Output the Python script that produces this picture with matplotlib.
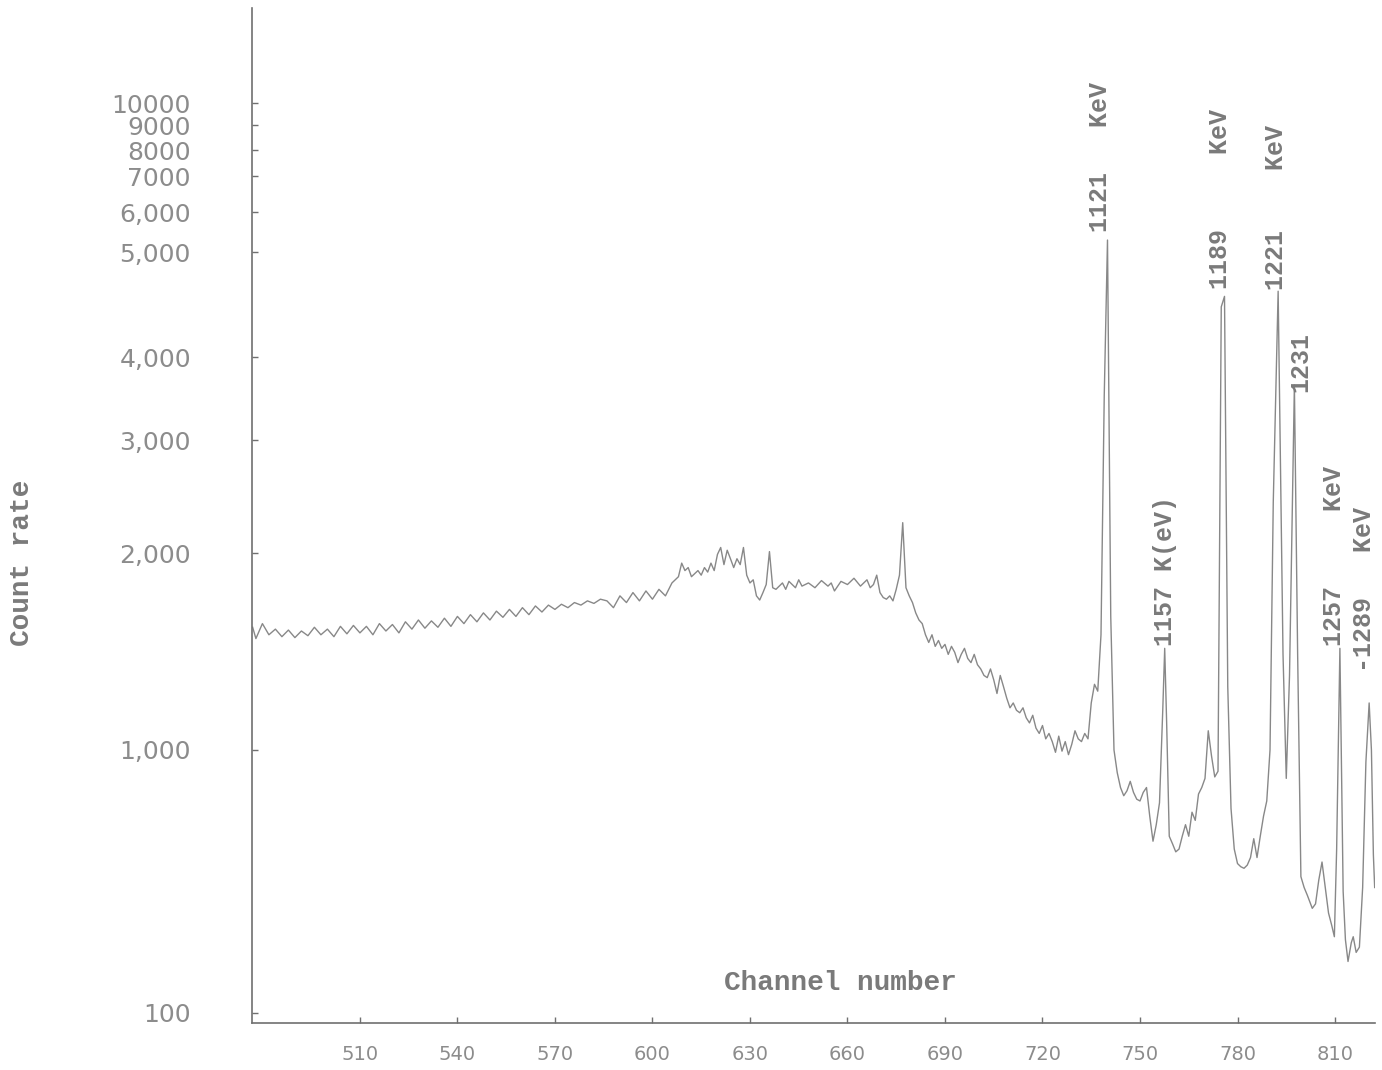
import numpy as np
import matplotlib
matplotlib.use("Agg")
import matplotlib.pyplot as plt
from matplotlib.ticker import FixedLocator, FixedFormatter, NullLocator

# ---------------- data ----------------
channels = [
    477, 478, 480, 482, 484, 486, 488, 490, 492, 494, 496, 498, 500, 502, 504, 506, 508, 510,
    512, 514, 516, 518, 520, 522, 524, 526, 528, 530, 532, 534, 536, 538, 540, 542, 544, 546,
    548, 550, 552, 554, 556, 558, 560, 562, 564, 566, 568, 570, 572, 574, 576, 578, 580, 582,
    584, 586, 588, 590, 592, 594, 596, 598, 600, 602, 604, 606, 608, 609, 610, 611, 612, 613,
    614, 615, 616, 617, 618, 619, 620, 621, 622, 623, 624, 625, 626, 627, 628, 629, 630, 631,
    632, 633, 634, 635, 636, 637, 638, 640, 641, 642, 644, 645, 646, 648, 650, 652, 654, 655,
    656, 658, 660, 662, 664, 666, 667, 668, 669, 670, 671, 672, 673, 674, 675, 676, 677, 678,
    679, 680, 681, 682, 683, 684, 685, 686, 687, 688, 689, 690, 691, 692, 693, 694, 695, 696,
    697, 698, 699, 700, 701, 702, 703, 704, 705, 706, 707, 708, 709, 710, 711, 712, 713, 714,
    715, 716, 717, 718, 719, 720, 721, 722, 723, 724, 725, 726, 727, 728, 729, 730, 731, 732,
    733, 734, 735, 736, 737, 738, 739, 740, 741, 742, 743, 744, 745, 746, 747, 748, 749, 750,
    751, 752, 753, 754, 755, 756, 757, 757.6, 758.2, 759, 760, 761, 762, 763, 764, 765, 766,
    767, 768, 769, 770, 771, 772, 773, 774, 775, 776, 777, 778, 779, 780, 781, 782, 783, 784,
    785, 786, 787, 788, 789, 790, 791, 792.5, 794, 795, 796, 797.5, 798.5, 799.5, 800.5, 801.5,
    803, 804, 805, 806, 807, 808, 809, 809.8, 810.5, 811.5, 812.5, 813.2, 814, 815, 815.6,
    816.5, 817.5, 818.5, 819.5, 820.5, 821.2, 821.8, 822.2,
]
counts = [
    1540, 1480, 1560, 1500, 1530, 1490, 1525, 1485, 1520, 1495, 1540, 1500, 1530, 1490, 1545, 1505, 1550, 1510,
    1545, 1500, 1560, 1520, 1555, 1510, 1570, 1530, 1580, 1535, 1575, 1540, 1590, 1545, 1600, 1560, 1610, 1570,
    1620, 1580, 1630, 1595, 1640, 1600, 1650, 1610, 1660, 1625, 1665, 1640, 1670, 1650, 1680, 1665, 1690, 1675,
    1700, 1690, 1650, 1720, 1680, 1740, 1690, 1750, 1700, 1760, 1720, 1800, 1840, 1930, 1880, 1900, 1840, 1860,
    1880, 1850, 1900, 1870, 1930, 1880, 1990, 2040, 1920, 2020, 1960, 1900, 1960, 1920, 2040, 1850, 1800, 1820,
    1720, 1695, 1740, 1790, 2010, 1770, 1760, 1800, 1760, 1810, 1770, 1820, 1780, 1800, 1770, 1815, 1780, 1800,
    1750, 1810, 1790, 1830, 1780, 1820, 1770, 1790, 1850, 1740, 1710, 1700, 1720, 1690, 1760, 1850, 2230, 1770,
    1720, 1680, 1620, 1580, 1560, 1500, 1460, 1500, 1440, 1470, 1430, 1450, 1400, 1440, 1410, 1360, 1400, 1430,
    1380, 1360, 1400, 1350, 1330, 1300, 1290, 1330, 1280, 1220, 1300, 1250, 1200, 1160, 1180, 1150, 1140, 1160,
    1120, 1100, 1130, 1080, 1060, 1090, 1040, 1060, 1030, 980, 1050, 990, 1030, 960, 1020, 1070, 1040, 1030,
    1060, 1040, 1180, 1260, 1230, 1500, 3500, 5280, 1600, 1000, 820, 720, 670, 700, 760, 690, 650, 640,
    690, 720, 560, 450, 520, 630, 1150, 1430, 1100, 470, 440, 410, 420, 470, 520, 470, 580,
    540, 680, 720, 780, 1070, 950, 790, 830, 4450, 4550, 1250, 600, 420, 370, 360, 355, 365, 390,
    460, 390, 470, 560, 640, 1000, 2400, 4600, 1400, 780, 1300, 3630, 1400, 330, 300, 280,
    250, 260, 320, 375, 300, 240, 215, 195, 420, 1430, 290, 190, 157, 185, 195,
    170, 178, 300, 900, 1180, 1000, 400, 300,
]

x_ticks = [510, 540, 570, 600, 630, 660, 690, 720, 750, 780, 810]
y_ticks = [100, 1000, 2000, 3000, 4000, 5000, 6000, 7000, 8000, 9000, 10000]
y_tick_labels = ["100", "1,000", "2,000", "3,000", "4,000", "5,000", "6,000",
                 "7000", "8000", "9000", "10000"]

# peaks that carry an energy label (channel of the peak, text)
peak_channels = [740, 757.6, 776, 792.5, 797.5, 811.5, 820.5]
peak_texts = ["1121   KeV", "1157 K(eV)", "1189     KeV", "1221    KeV",
              "1231", "1257     KeV", "-1289   KeV"]

# ---------------- hand-drawn (non-uniform) count-rate axis calibration ----------------
cal_counts = [10, 100, 1000, 2000, 3000, 4000, 5000, 6000, 7000, 8000, 9000, 10000, 100000]
cal_height = [-253, 10, 273, 470, 583, 666, 771, 811, 847, 873, 898, 920, 1400]
cal_log = np.log10(cal_counts)
cal_h = np.array(cal_height, dtype=float)


def fwd(v):
    v = np.clip(np.asarray(v, dtype=float), 1e-3, None)
    return np.interp(np.log10(v), cal_log, cal_h)


def inv(h):
    return 10 ** np.interp(np.asarray(h, dtype=float), cal_h, cal_log)


# ---------------- figure ----------------
W, H = 1382, 1070
fig = plt.figure(figsize=(W / 100, H / 100), dpi=100)
fig.patch.set_facecolor("white")
ax = fig.add_axes([252 / W, 1 - 1023 / H, (1375 - 252) / W, (1023 - 8) / H])
ax.set_yscale("function", functions=(fwd, inv))

line_col = "#888888"
ax.plot(channels, counts, color=line_col, lw=1.0, solid_joinstyle="round")

ax.set_xlim(476.8, 822.3)
ax.set_ylim(float(inv(0)), float(inv(1015)))

for s in ["top", "right"]:
    ax.spines[s].set_visible(False)
for s in ["left", "bottom"]:
    ax.spines[s].set_color("#707070")
    ax.spines[s].set_linewidth(1.2)

ax.yaxis.set_major_locator(FixedLocator(y_ticks))
ax.yaxis.set_major_formatter(FixedFormatter(y_tick_labels))
ax.yaxis.set_minor_locator(NullLocator())
ax.xaxis.set_major_locator(FixedLocator(x_ticks))
ax.xaxis.set_minor_locator(NullLocator())

ax.tick_params(axis="y", direction="in", length=4, width=1, color="#707070",
               pad=44, labelsize=18, labelcolor="#8c8c8c")
ax.tick_params(axis="x", direction="in", length=4, width=1, color="#707070",
               pad=16, labelsize=14, labelcolor="#8c8c8c")

mono = ["Liberation Mono", "DejaVu Sans Mono"]

# peak labels
offsets = [(-5.5, 6), (0, 2), (-3, 5), (-1.5, 1), (4.5, -5), (-4.5, 2), (-4, 22)]
for pc, txt, (dx, dy) in zip(peak_channels, peak_texts, offsets):
    i = int(np.argmin(np.abs(np.array(channels) - pc)))
    ax.annotate(txt, xy=(channels[i], counts[i]), xytext=(dx, dy),
                textcoords="offset points", rotation=90, ha="center", va="bottom",
                fontsize=18, family=mono, fontweight="bold", color="#7a7a7a",
                annotation_clip=False)

ax.text(0.5236, 0.0394, "Channel number", transform=ax.transAxes, ha="center",
        va="center", fontsize=20, family=mono, fontweight="bold", color="#7a7a7a")
fig.text(22 / W, 1 - 563 / H, "Count rate", rotation=90, ha="center", va="center",
         fontsize=20, family=mono, fontweight="bold", color="#7a7a7a")

fig.savefig("out.png", dpi=100, facecolor="white")
